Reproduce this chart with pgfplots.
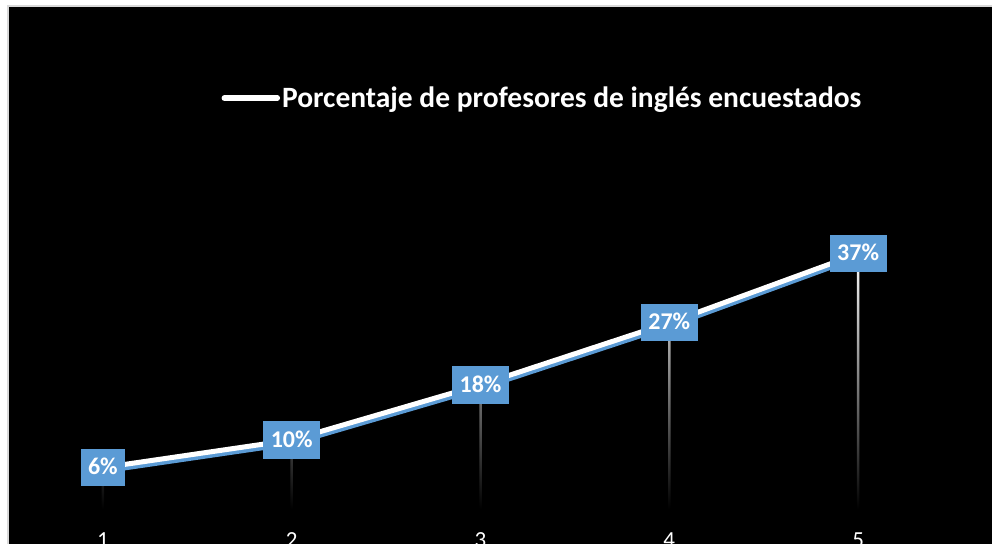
\documentclass[border=0pt]{standalone}
\usepackage{fontspec}
\setmainfont{Carlito}
\usepackage{pgfplots}
\pgfplotsset{compat=1.18}
\definecolor{lblue}{HTML}{5B9BD5}
\definecolor{edgegray}{HTML}{D9D9D9}
\begin{document}
\begin{tikzpicture}
\useasboundingbox (-8.5bp,-35bp) rectangle (983.5bp,509bp);
\clip (-8.5bp,-35bp) rectangle (983.5bp,509bp);
\fill[white] (-8.5bp,-35bp) rectangle (983.5bp,509bp);
\filldraw[fill=black,draw=edgegray,line width=2bp] (-0.5bp,-60bp) rectangle (1000bp,502.5bp);
\begin{axis}[
  at={(0,0)}, anchor=south west,
  scale only axis, width=944bp, height=276bp,
  xmin=0.5, xmax=5.5, ymin=0, ymax=40,
  clip=false,
  axis line style={draw=none},
  ytick=\empty,
  xtick={1,2,3,4,5},
  major tick length=0pt,
  x tick label style={font=\fontsize{23bp}{27bp}\selectfont, text=white, anchor=base, yshift=-38bp},
  legend style={at={(axis description cs:0.2255,1.489)}, anchor=west, draw=none, fill=none,
    inner sep=0pt, text=white, font=\bfseries\fontsize{29.5bp}{34bp}\selectfont},
  legend cell align=left,
  legend image code/.code={\draw[white,line width=5.5bp,line cap=round] (0bp,0bp) -- (53bp,0bp);},
  /pgf/number format/assume math mode=true,
]
% drop lines
\addplot[ybar, bar width=2.5bp, draw=none, top color=white, bottom color=black, forget plot]
  coordinates {(1,6) (2,10) (3,18) (4,27) (5,37)};
% blue shadow line
\addplot[lblue, line width=5bp, yshift=-3.5bp, forget plot]
  coordinates {(1,6) (2,10) (3,18) (4,27) (5,37)};
% main white line with labels
\addplot[white, line width=5bp,
  nodes near coords={\pgfmathprintnumber[fixed,precision=0]{\pgfplotspointmeta}\%},
  every node near coord/.append style={anchor=center, fill=lblue, text=white,
    font=\bfseries\fontsize{24bp}{28bp}\selectfont, inner xsep=7.5bp, inner ysep=11.5bp,
    text height=14.5bp, text depth=0bp}]
  coordinates {(1,6) (2,10) (3,18) (4,27) (5,37)};
\addlegendentry{Porcentaje de profesores de inglés encuestados}
\end{axis}
\end{tikzpicture}
\end{document}
